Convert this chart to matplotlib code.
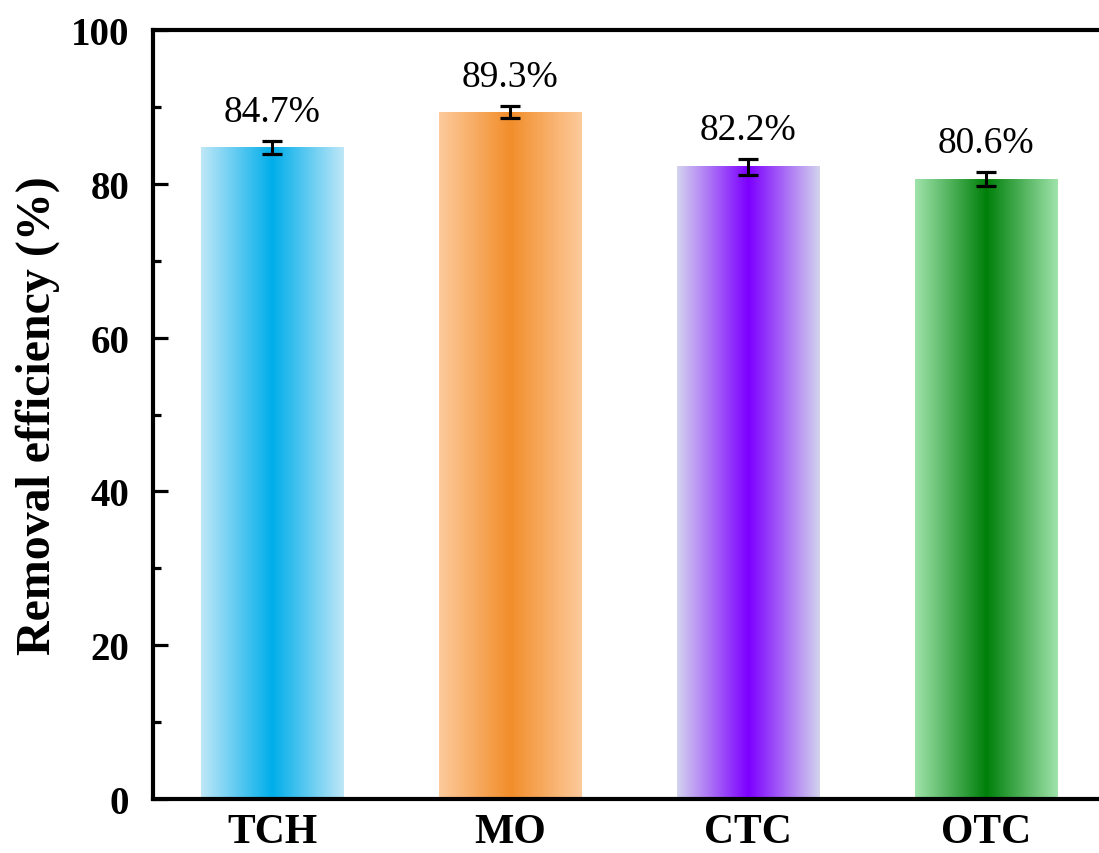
import numpy as np
import matplotlib
matplotlib.use("Agg")
import matplotlib.pyplot as plt
from matplotlib.colors import LinearSegmentedColormap

# removal efficiency for each pollutant
pollutants = ["TCH", "MO", "CTC", "OTC"]
efficiency = [84.7, 89.3, 82.2, 80.6]
errors = [0.85, 0.8, 1.0, 0.9]

# (edge colour, centre colour) of each bar's horizontal gradient
edge_colors = ["#bfe7f8", "#fdca9c", "#d3d3ee", "#9fe3ab"]
center_colors = ["#00aeea", "#f28e2b", "#7d00ff", "#00800a"]

plt.rcParams["font.family"] = ["Liberation Serif", "DejaVu Serif"]

fig = plt.figure(figsize=(10.99, 8.54), dpi=100)
ax = fig.add_axes([153 / 1099, 1 - 800 / 854, (1105 - 153) / 1099, 769 / 854])

x = np.arange(len(pollutants))
width = 0.6
ramp = np.concatenate([np.linspace(0, 1, 128), np.linspace(1, 0, 128)])[None, :]

for xi, h, e0, c0 in zip(x, efficiency, edge_colors, center_colors):
    cmap = LinearSegmentedColormap.from_list("bar", [e0, c0])
    ax.imshow(ramp, cmap=cmap, aspect="auto", interpolation="bilinear",
              extent=[xi - width / 2, xi + width / 2, 0, h], zorder=2)

ax.errorbar(x, efficiency, yerr=errors, fmt="none", ecolor="black",
            elinewidth=2.2, capsize=7, capthick=2.3, zorder=3)

for xi, h, err in zip(x, efficiency, errors):
    ax.text(xi, h + err + 1.6, f"{h}%", ha="center", va="bottom",
            fontsize=27)

ax.set_xlim(-0.5, 3.5)
ax.set_ylim(0, 100)
ax.set_xticks(x)
ax.set_xticklabels(pollutants)
ax.set_yticks(np.arange(0, 101, 20))
ax.set_yticks(np.arange(10, 100, 20), minor=True)
ax.set_ylabel("Removal efficiency (%)", fontsize=34.5, fontweight="bold")
ax.yaxis.set_label_coords(-0.098, 0.5)

ax.tick_params(axis="both", which="major", direction="in", length=11,
               width=2.3, labelsize=28)
ax.tick_params(axis="y", which="major", pad=17)
ax.tick_params(axis="x", which="major", labelsize=30, pad=10)
ax.tick_params(axis="y", which="minor", direction="in", length=5.5, width=2.3)
for lab in ax.get_xticklabels() + ax.get_yticklabels():
    lab.set_fontweight("bold")

for side in ["left", "bottom", "top"]:
    ax.spines[side].set_linewidth(3)
ax.spines["right"].set_visible(False)

fig.savefig("out.png", dpi=100)
